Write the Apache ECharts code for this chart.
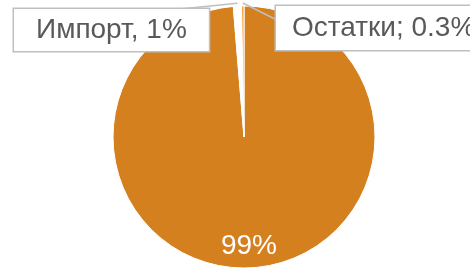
<!DOCTYPE html>
<html>
<head>
    <meta charset="utf-8">
    <title>pie</title>
    <script src="https://cdn.jsdelivr.net/npm/echarts@6/dist/echarts.min.js"></script>
    <style>
        html, body { margin: 0; padding: 0; background: #fff; }
    </style>
</head>
<body>
<div id="main" style="width: 470px;height:269px;"></div>

<script type="text/javascript">
    // данные диаграммы
    var names = ['Основное', 'Импорт', 'Остатки'];
    var values = [98.7, 1.0, 0.3];
    var labels = ['99%', 'Импорт, 1%', 'Остатки; 0.3%'];
    var colors = ['#D4801F', '#FFFFFF', '#F4A236'];

    // где стоят подписи и куда приходит выноска
    var labelPos = [
        {x: 249, y: 246, align: 'center', verticalAlign: 'middle'},
        {x: 14, y: 9, align: 'left', verticalAlign: 'top', lineEnd: [180, 9]},
        {x: 276, y: 6, align: 'left', verticalAlign: 'top', lineEnd: [277, 20]}
    ];
    var paddings = [0, [7, 22], [8, 16]];

    var myChart = echarts.init(document.getElementById('main'));

    // секторы
    var sectors = [];
    // подписи (второй прозрачный круг поверх, чтобы выноски были над секторами)
    var labelData = [];
    for (var i = 0; i < values.length; i++) {
        sectors.push({
            name: names[i],
            value: values[i],
            itemStyle: {color: colors[i]}
        });
        var item = {
            name: names[i],
            value: values[i],
            label: {formatter: labels[i], padding: paddings[i]}
        };
        if (i === 0) {
            item.label.color = '#fff';
            item.label.backgroundColor = 'transparent';
            item.label.borderWidth = 0;
            item.labelLine = {show: false};
        }
        labelData.push(item);
    }

    var option = {
        animation: false,
        series: [{
            type: 'pie',
            z: 2,
            center: [244, 137],
            radius: 131,
            startAngle: 90,
            clockwise: true,
            itemStyle: {borderColor: '#fff', borderWidth: 1},
            label: {show: false},
            labelLine: {show: false},
            data: sectors
        }, {
            type: 'pie',
            z: 3,
            silent: true,
            center: [244, 137],
            radius: 131,
            startAngle: 90,
            clockwise: true,
            avoidLabelOverlap: false,
            itemStyle: {color: 'rgba(0,0,0,0)', borderWidth: 0},
            label: {
                show: true,
                position: 'outside',
                fontFamily: 'Liberation Sans, Arial, sans-serif',
                fontSize: 28,
                color: '#595959',
                backgroundColor: '#fff',
                borderColor: '#bfbfbf',
                borderWidth: 1.5
            },
            labelLine: {
                show: true,
                maxSurfaceAngle: 180,
                lineStyle: {color: '#bfbfbf', width: 1.5}
            },
            labelLayout: function (params) {
                var p = labelPos[params.dataIndex];
                var out = {x: p.x, y: p.y, align: p.align, verticalAlign: p.verticalAlign};
                if (p.lineEnd && params.labelLinePoints) {
                    var start = params.labelLinePoints[0];
                    out.labelLinePoints = [[start[0], start[1] - 3], p.lineEnd];
                }
                return out;
            },
            data: labelData
        }]
    };

    myChart.setOption(option);
</script>
</body>
</html>
